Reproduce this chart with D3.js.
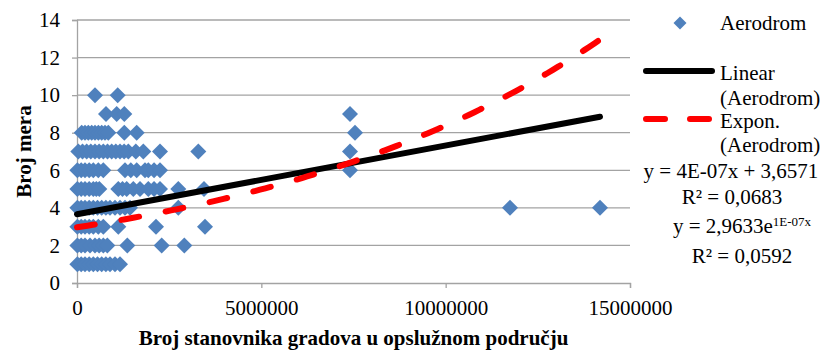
<!DOCTYPE html>
<html>
<head>
<meta charset="utf-8">
<script src="https://cdn.jsdelivr.net/npm/d3@7"></script>
<style>
  html, body { margin: 0; padding: 0; background: #fff; }
  svg { display: block; }
  text { font-family: "Liberation Serif", "Times New Roman", serif; fill: #000; }
</style>
</head>
<body>
<svg id="chart" width="825" height="353"></svg>
<script>
// Airports: population of cities in the served area vs. number of measures
const population = [
  488000, 1104000,
  787000, 1077000, 1283000, 7405000,
  127000, 217000, 307000, 398000, 488000, 579000, 670000, 760000, 849000, 1283000, 1619000, 7541000,
  35000, 149000, 263000, 375000, 488000, 600000, 713000, 827000, 941000, 1053000, 1166000, 1279000, 1392000, 1595000, 1798000, 2251000, 3290000, 7405000,
  10000, 113000, 217000, 330000, 442000, 578000, 713000, 1302000, 1460000, 1619000, 1845000, 1934000, 2090000, 2251000, 7405000,
  10000, 113000, 217000, 330000, 442000, 524000, 605000, 1120000, 1234000, 1348000, 1528000, 1709000, 1934000, 2090000, 2251000, 2748000, 3445000,
  10000, 113000, 217000, 330000, 442000, 556000, 670000, 783000, 895000, 1030000, 1166000, 1302000, 1438000, 2748000, 11745000, 14186000,
  10000, 113000, 217000, 330000, 442000, 578000, 713000, 1120000, 2143000, 3472000,
  10000, 113000, 217000, 352000, 488000, 600000, 713000, 822000, 1364000, 2297000, 2911000,
  10000, 113000, 217000, 330000, 442000, 556000, 670000, 783000, 895000, 1030000, 1166000
];
const measures = [
  10, 10,
  9, 9, 9, 9,
  8, 8, 8, 8, 8, 8, 8, 8, 8, 8, 8, 8,
  7, 7, 7, 7, 7, 7, 7, 7, 7, 7, 7, 7, 7, 7, 7, 7, 7, 7,
  6, 6, 6, 6, 6, 6, 6, 6, 6, 6, 6, 6, 6, 6, 6,
  5, 5, 5, 5, 5, 5, 5, 5, 5, 5, 5, 5, 5, 5, 5, 5, 5,
  4, 4, 4, 4, 4, 4, 4, 4, 4, 4, 4, 4, 4, 4, 4, 4,
  3, 3, 3, 3, 3, 3, 3, 3, 3, 3,
  2, 2, 2, 2, 2, 2, 2, 2, 2, 2, 2,
  1, 1, 1, 1, 1, 1, 1, 1, 1, 1, 1
];

const xTicks = [0, 5000000, 10000000, 15000000];
const yTicks = [0, 2, 4, 6, 8, 10, 12, 14];

const seriesName = "Aerodrom";
const xTitle = "Broj stanovnika gradova u opslužnom području";
const yTitle = "Broj mera";

// Trendline fits
const linSlope = 3.66e-7, linIntercept = 3.6571, linR2 = 0.0683;
const expA = 2.9633, expB = 1.04e-7, expR2 = 0.0592;

const svg = d3.select("#chart");
const plotLeft = 77, plotRight = 630, plotTop = 20, plotBottom = 283;

const x = d3.scaleLinear().domain([0, 15000000]).range([plotLeft, plotRight]);
const y = d3.scaleLinear().domain([0, 14]).range([plotBottom, plotTop]);

const gridColor = "#a3a3a3";
const blue = "#4f81bd";
const fontSize = 21;

// gridlines
svg.append("g").selectAll("line")
  .data(yTicks.filter(t => t > 0))
  .join("line")
  .attr("x1", plotLeft).attr("x2", plotRight)
  .attr("y1", d => y(d)).attr("y2", d => y(d))
  .attr("stroke", gridColor).attr("stroke-width", 1.3);

// y axis
const yAxis = svg.append("g")
  .attr("transform", `translate(${plotLeft},0)`)
  .call(d3.axisLeft(y).tickValues(yTicks).tickSize(5).tickPadding(12).tickFormat(d3.format("d")));
yAxis.select(".domain").attr("stroke", gridColor).attr("stroke-width", 1.3);
yAxis.selectAll(".tick line").attr("stroke", gridColor).attr("stroke-width", 1.3);
yAxis.selectAll(".tick text")
  .attr("font-family", "Liberation Serif").attr("font-size", fontSize).attr("fill", "#000");

// x axis
const xAxis = svg.append("g")
  .attr("transform", `translate(0,${plotBottom})`)
  .call(d3.axisBottom(x).tickValues(xTicks).tickSize(5).tickPadding(12).tickFormat(d3.format("d")));
xAxis.select(".domain").attr("stroke", gridColor).attr("stroke-width", 1.3);
xAxis.selectAll(".tick line").attr("stroke", gridColor).attr("stroke-width", 1.3);
xAxis.selectAll(".tick text")
  .attr("font-family", "Liberation Serif").attr("font-size", fontSize).attr("fill", "#000");

// axis titles
svg.append("text")
  .attr("x", (plotLeft + plotRight) / 2).attr("y", 345)
  .attr("text-anchor", "middle").attr("font-weight", "bold").attr("font-size", fontSize)
  .text(xTitle);
svg.append("text")
  .attr("transform", `translate(31,${(plotTop + plotBottom) / 2}) rotate(-90)`)
  .attr("text-anchor", "middle").attr("font-weight", "bold").attr("font-size", fontSize)
  .text(yTitle);

// diamond marker
const diamond = r => `M0,${-r}L${r},0L0,${r}L${-r},0Z`;

svg.append("g").selectAll("path")
  .data(population.map((p, i) => [p, measures[i]]))
  .join("path")
  .attr("d", diamond(8))
  .attr("transform", d => `translate(${x(d[0])},${y(d[1])})`)
  .attr("fill", blue);

// trendlines
const xMax = d3.max(population);
const line = d3.line().x(d => x(d[0])).y(d => y(d[1]));

svg.append("path")
  .attr("d", line([[0, linIntercept], [xMax, linIntercept + linSlope * xMax]]))
  .attr("fill", "none").attr("stroke", "#000").attr("stroke-width", 6)
  .attr("stroke-linecap", "round");

const expPts = d3.range(0, 101).map(i => {
  const xv = xMax * i / 100;
  return [xv, expA * Math.exp(expB * xv)];
});
svg.append("path")
  .attr("d", line(expPts))
  .attr("fill", "none").attr("stroke", "#ff0000").attr("stroke-width", 6)
  .attr("stroke-linecap", "round").attr("stroke-dasharray", "18,27");

// legend
const lg = svg.append("g");
lg.append("path").attr("d", diamond(6.5)).attr("transform", "translate(680,23)").attr("fill", blue);
lg.append("text").attr("x", 720).attr("y", 30).attr("font-size", fontSize).text(seriesName);

lg.append("line").attr("x1", 646).attr("x2", 712).attr("y1", 71).attr("y2", 71)
  .attr("stroke", "#000").attr("stroke-width", 6).attr("stroke-linecap", "round");
lg.append("text").attr("x", 720).attr("y", 80).attr("font-size", fontSize).text("Linear");
lg.append("text").attr("x", 720).attr("y", 105).attr("font-size", fontSize).text(`(${seriesName})`);

lg.append("line").attr("x1", 646).attr("x2", 712).attr("y1", 119).attr("y2", 119)
  .attr("stroke", "#ff0000").attr("stroke-width", 6).attr("stroke-linecap", "round")
  .attr("stroke-dasharray", "19,25");
lg.append("text").attr("x", 720).attr("y", 128).attr("font-size", fontSize).text("Expon.");
lg.append("text").attr("x", 720).attr("y", 152).attr("font-size", fontSize).text(`(${seriesName})`);

// equation labels
const comma = v => String(v).replace(".", ",");
const sci = v => {
  const [m, e] = v.toExponential(0).split("e");
  const ev = parseInt(e, 10);
  return `${m}E${ev < 0 ? "-" : "+"}${String(Math.abs(ev)).padStart(2, "0")}`;
};

svg.append("text").attr("x", 731).attr("y", 178).attr("text-anchor", "middle").attr("font-size", fontSize)
  .text(`y = ${sci(linSlope)}x + ${comma(linIntercept.toFixed(4))}`);
svg.append("text").attr("x", 732).attr("y", 204).attr("text-anchor", "middle").attr("font-size", fontSize)
  .text(`R² = ${comma(linR2.toFixed(4))}`);

const expEq = svg.append("text").attr("x", 742).attr("y", 233).attr("text-anchor", "middle").attr("font-size", fontSize);
expEq.append("tspan").text(`y = ${comma(expA.toFixed(4))}e`);
expEq.append("tspan").attr("font-size", 13).attr("dy", -7).text(`${sci(expB)}x`);
svg.append("text").attr("x", 742).attr("y", 263).attr("text-anchor", "middle").attr("font-size", fontSize)
  .text(`R² = ${comma(expR2.toFixed(4))}`);
</script>
</body>
</html>
